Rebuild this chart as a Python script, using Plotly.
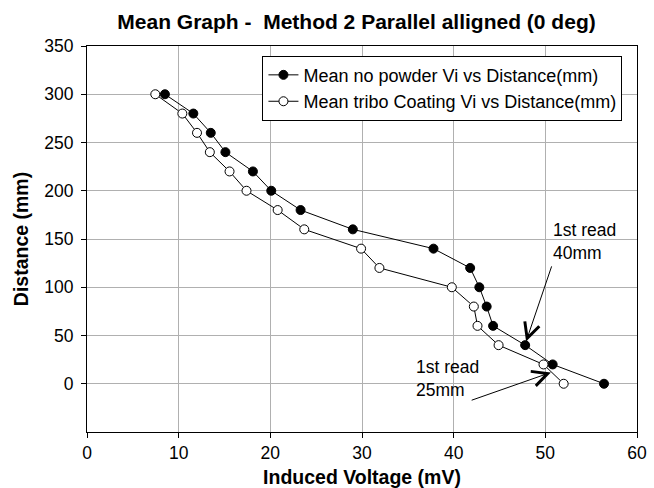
import plotly.graph_objects as go

# Data
distance_mm = [300, 280, 260, 240, 220, 200, 180, 160, 140, 120, 100, 80, 60, 40, 20, 0]
no_powder_vi = [8.5, 11.6, 13.5, 15.1, 18.1, 20.1, 23.3, 29.0, 37.8, 41.8, 42.8, 43.6, 44.3, 47.8, 50.8, 56.4]
tribo_vi = [7.45, 10.4, 12.0, 13.4, 15.55, 17.4, 20.8, 23.7, 29.9, 31.9, 39.8, 42.2, 42.6, 44.9, 49.8, 52.0]

series_names = ["Mean no powder Vi vs Distance(mm)", "Mean tribo Coating Vi vs Distance(mm)"]
x_ticks = [0, 10, 20, 30, 40, 50, 60]
y_ticks = [0, 50, 100, 150, 200, 250, 300, 350]

FONT = "Liberation Sans, Arial, sans-serif"

fig = go.Figure()
fig.add_trace(go.Scatter(
    x=no_powder_vi, y=distance_mm, mode="lines+markers", name=series_names[0],
    line=dict(color="black", width=1),
    marker=dict(symbol="circle", size=9, color="black", line=dict(color="black", width=1)),
))
fig.add_trace(go.Scatter(
    x=tribo_vi, y=distance_mm, mode="lines+markers", name=series_names[1],
    line=dict(color="black", width=1),
    marker=dict(symbol="circle", size=9, color="white", line=dict(color="black", width=1)),
))

# Text annotations
fig.add_annotation(x=50.6, y=172, xref="x", yref="y", text="1st read<br>40mm",
                   showarrow=False, xanchor="left", yanchor="top", align="left",
                   font=dict(family=FONT, size=17.5, color="black"))
fig.add_annotation(x=35.7, y=30, xref="x", yref="y", text="1st read<br>25mm",
                   showarrow=False, xanchor="left", yanchor="top", align="left",
                   font=dict(family=FONT, size=17.5, color="black"))
# Arrows
fig.add_annotation(x=47.9, y=43.8, ax=50.74, ay=123.2, xref="x", yref="y", axref="x", ayref="y",
                   text="", showarrow=True, arrowhead=5, arrowsize=3, arrowwidth=1, arrowcolor="black")
fig.add_annotation(x=50.6, y=11.7, ax=41.8, ay=-17.6, xref="x", yref="y", axref="x", ayref="y",
                   text="", showarrow=True, arrowhead=5, arrowsize=3, arrowwidth=1, arrowcolor="black")

fig.update_layout(
    width=654, height=488,
    margin=dict(l=87, r=17, t=46, b=56, autoexpand=False),
    paper_bgcolor="white", plot_bgcolor="white",
    font=dict(family=FONT, size=17, color="black"),
    title=dict(text="<b>Mean Graph -  Method 2 Parallel alligned (0 deg)</b>",
               x=0.49, xref="paper", xanchor="center",
               y=1 - 21.7 / 488, yref="container", yanchor="middle",
               font=dict(family=FONT, size=21, color="black")),
    showlegend=True,
    legend=dict(x=0.319, y=0.975, xanchor="left", yanchor="top",
                bgcolor="white", bordercolor="black", borderwidth=1,
                font=dict(family=FONT, size=18, color="black"),
                tracegroupgap=0, itemwidth=30),
    xaxis=dict(range=[0, 60], tickvals=x_ticks, ticktext=[str(v) for v in x_ticks],
               automargin=False,
               showgrid=True, gridcolor="#b0b0b0", gridwidth=1, zeroline=False,
               showline=True, linecolor="black", linewidth=1, mirror=True,
               ticks="outside", ticklen=5, tickcolor="black",
               tickfont=dict(family=FONT, size=17.5),
               title=dict(text="<b>Induced Voltage (mV)</b>", standoff=13,
                          font=dict(family=FONT, size=19.5))),
    yaxis=dict(range=[-50, 350], tickvals=y_ticks, ticktext=[str(v) for v in y_ticks],
               automargin=False, ticklabelstandoff=4,
               showgrid=True, gridcolor="#b0b0b0", gridwidth=1, zeroline=False,
               showline=True, linecolor="black", linewidth=1, mirror=True,
               ticks="outside", ticklen=5, tickcolor="black",
               tickfont=dict(family=FONT, size=17.5),
               title=dict(text="<b>Distance (mm)</b>", standoff=10,
                          font=dict(family=FONT, size=19.5))),
)

fig.write_html("out.html", config={"displayModeBar": False},
               post_script="document.body.style.margin='0';document.body.style.padding='0';")
